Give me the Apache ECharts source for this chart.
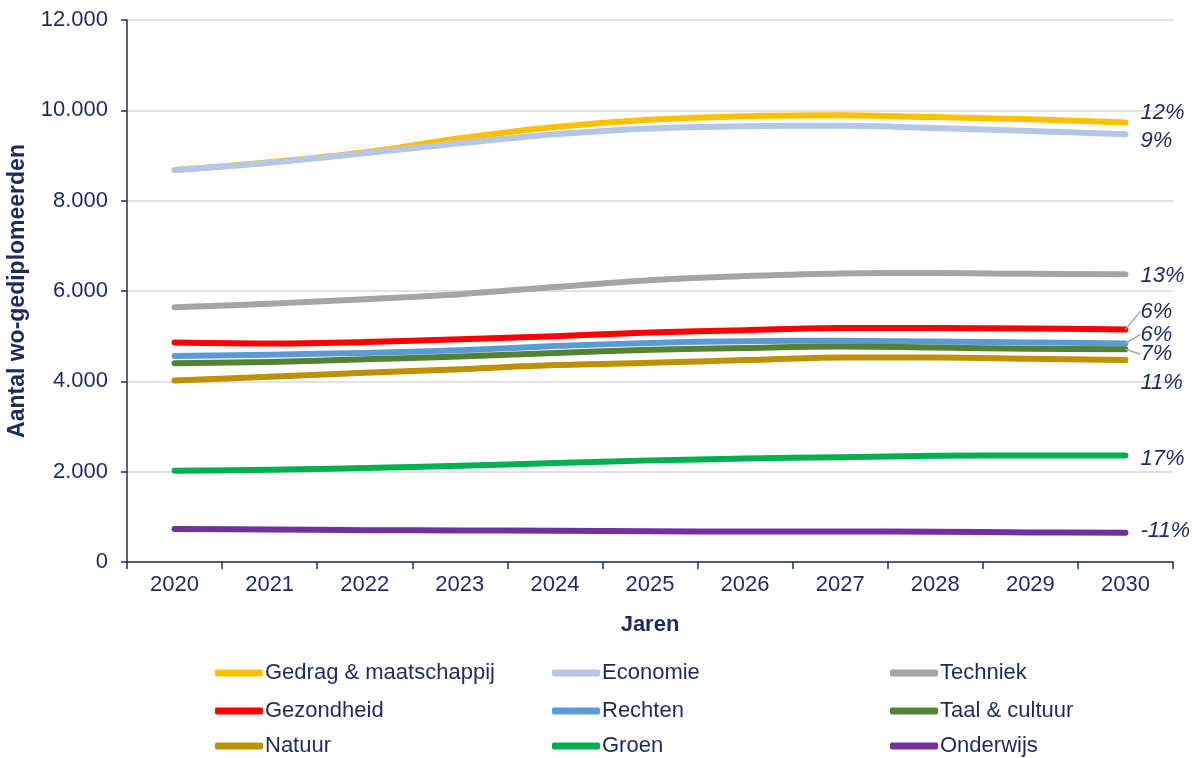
<!DOCTYPE html>
<html>
<head>
<meta charset="utf-8">
<script src="https://cdn.jsdelivr.net/npm/echarts@6/dist/echarts.min.js"></script>
<style>
  html, body { margin: 0; padding: 0; background: #ffffff; }
  #chart { width: 1195px; height: 758px; }
</style>
</head>
<body>
<div id="chart"></div>
<script>
// Aantal wo-gediplomeerden per sector, 2020-2030
const years = ['2020', '2021', '2022', '2023', '2024', '2025', '2026', '2027', '2028', '2029', '2030'];
const yTicks = [0, 2000, 4000, 6000, 8000, 10000, 12000];

const gedrag     = [8680, 8850, 9070, 9380, 9630, 9790, 9870, 9890, 9850, 9800, 9730];
const economie   = [8680, 8840, 9050, 9270, 9470, 9600, 9650, 9660, 9610, 9540, 9470];
const techniek   = [5640, 5720, 5820, 5930, 6090, 6240, 6330, 6390, 6400, 6380, 6370];
const gezondheid = [4860, 4840, 4870, 4930, 5000, 5080, 5130, 5180, 5180, 5170, 5150];
const rechten    = [4560, 4590, 4630, 4690, 4780, 4850, 4890, 4900, 4880, 4860, 4840];
const taal       = [4400, 4430, 4490, 4550, 4630, 4700, 4740, 4770, 4750, 4720, 4710];
const natuur     = [4020, 4100, 4190, 4270, 4360, 4410, 4470, 4530, 4530, 4500, 4470];
const groen      = [2020, 2040, 2080, 2130, 2190, 2250, 2290, 2320, 2350, 2360, 2360];
const onderwijs  = [730, 720, 705, 700, 690, 680, 675, 675, 670, 655, 650];

const seriesNames = ['Gedrag & maatschappij', 'Economie', 'Techniek', 'Gezondheid', 'Rechten',
                     'Taal & cultuur', 'Natuur', 'Groen', 'Onderwijs'];
const seriesValues = [gedrag, economie, techniek, gezondheid, rechten, taal, natuur, groen, onderwijs];
const growthLabels = ['12%', '9%', '13%', '6%', '6%', '7%', '11%', '17%', '-11%'];

// styling per series
const colors = ['#FFC000', '#B4C7E7', '#A5A5A5', '#FF0000', '#5B9BD5', '#548235', '#BF9000', '#00B050', '#7030A0'];
const labelShift = [-10, 7, 2, -18, -9, 5, 23, 3, -2];
const withLeader = [false, false, false, true, true, true, false, false, false];

const navy = '#1c2b5a';
const font = '"Liberation Sans", Arial, sans-serif';
const fontSize = 22;

function fmtThousands(v) {
  const s = String(Math.round(v));
  return s.replace(/\B(?=(\d{3})+(?!\d))/g, '.');
}

const series = seriesNames.map((name, k) => {
  const vals = seriesValues[k];
  const last = vals.length - 1;
  return {
    name: name,
    type: 'line',
    smooth: 0.35,
    symbol: 'circle',
    symbolSize: 0,
    showSymbol: true,
    color: colors[k],
    lineStyle: { width: 6, color: colors[k], cap: 'round', join: 'round' },
    itemStyle: { color: colors[k] },
    emphasis: { disabled: true },
    label: {
      show: false,
      position: 'right',
      distance: 15,
      formatter: () => growthLabels[k],
      color: navy,
      fontFamily: font,
      fontStyle: 'italic',
      fontSize: fontSize
    },
    labelLayout: { dy: labelShift[k] },
    labelLine: {
      show: withLeader[k],
      length2: 11,
      minTurnAngle: 0,
      lineStyle: { color: '#a6a6a6', width: 1.5 }
    },
    data: vals.map((v, i) => i === last ? { value: v, label: { show: true } } : v)
  };
});

// legend: three columns by three rows, one legend block per entry
const legendColumns = [210, 547, 885];
const legendRows = [657, 695, 730];
const legendOrder = [
  [seriesNames[0], seriesNames[1], seriesNames[2]],
  [seriesNames[3], seriesNames[4], seriesNames[5]],
  [seriesNames[6], seriesNames[7], seriesNames[8]]
];
const legends = [];
legendOrder.forEach((row, r) => {
  row.forEach((name, c) => {
    legends.push({
      left: legendColumns[c],
      top: legendRows[r],
      data: [name],
      itemWidth: 48,
      itemHeight: 7,
      selectedMode: false,
      icon: 'roundRect',
      textStyle: { color: navy, fontFamily: font, fontSize: fontSize, padding: [0, 0, 0, -3] }
    });
  });
});

const chart = echarts.init(document.getElementById('chart'), null, { renderer: 'canvas' });
chart.setOption({
  animation: false,
  backgroundColor: '#ffffff',
  grid: { left: 127, right: 22, top: 20, bottom: 196, containLabel: false, outerBoundsMode: 'none' },
  legend: legends,
  xAxis: {
    type: 'category',
    data: years,
    boundaryGap: true,
    name: 'Jaren',
    nameLocation: 'middle',
    nameGap: 52,
    nameTextStyle: { color: navy, fontFamily: font, fontSize: fontSize, fontWeight: 'bold' },
    axisLine: { lineStyle: { color: navy, width: 1.5 } },
    axisTick: { show: true, length: 7, inside: false, lineStyle: { color: navy, width: 1.5 } },
    axisLabel: { color: navy, fontFamily: font, fontSize: fontSize, margin: 12 },
    splitLine: { show: false }
  },
  yAxis: {
    type: 'value',
    min: yTicks[0],
    max: yTicks[yTicks.length - 1],
    interval: yTicks[1] - yTicks[0],
    name: 'Aantal wo-gediplomeerden',
    nameLocation: 'middle',
    nameRotate: 90,
    nameGap: 98,
    nameTextStyle: { color: navy, fontFamily: font, fontSize: 23, fontWeight: 'bold' },
    axisLine: { show: true, lineStyle: { color: navy, width: 1.5 } },
    axisTick: { show: true, length: 6, inside: false, lineStyle: { color: navy, width: 1.5 } },
    axisLabel: { color: navy, fontFamily: font, fontSize: fontSize, margin: 19, formatter: fmtThousands },
    splitLine: { show: true, lineStyle: { color: '#d9d9d9', width: 1.5 } }
  },
  series: series
});
</script>
</body>
</html>
